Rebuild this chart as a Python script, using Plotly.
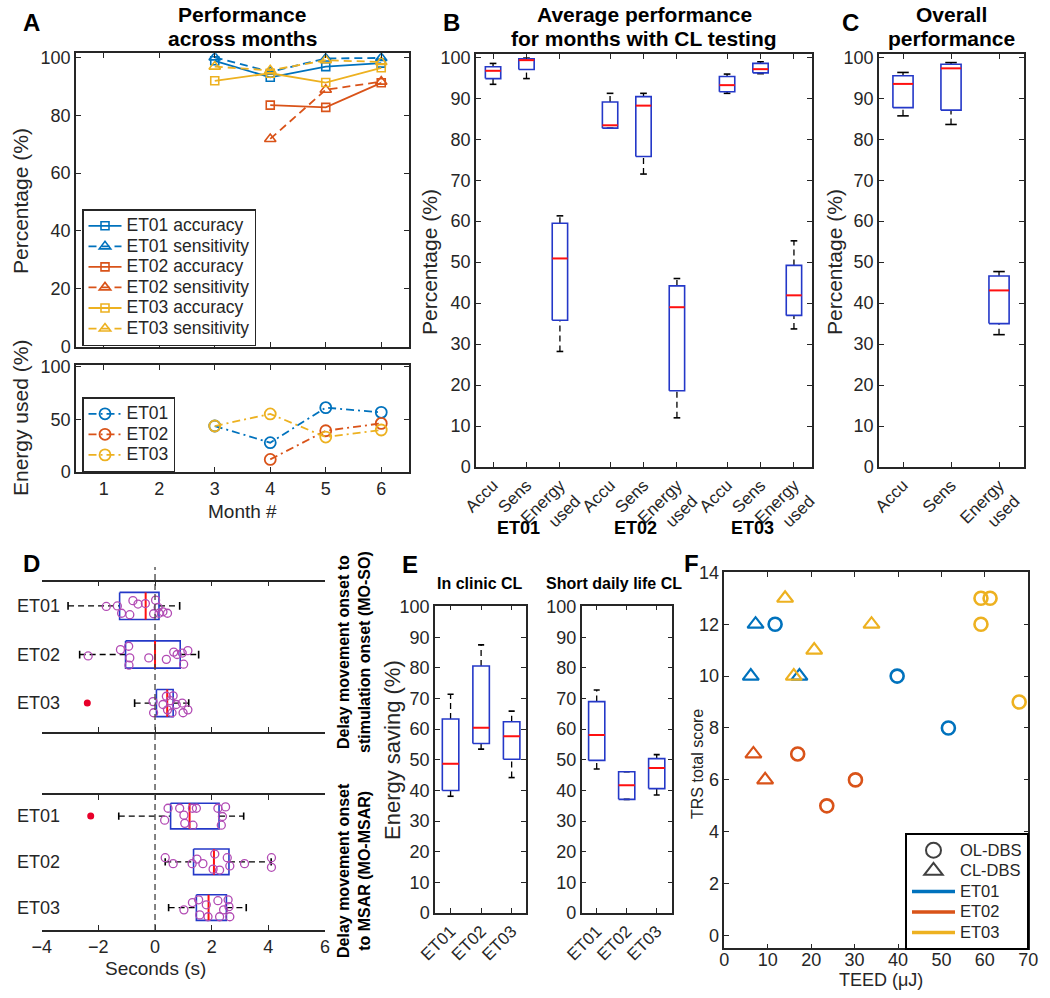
import plotly.graph_objects as go

W, H = 1050, 998
FONT = "Liberation Sans, Arial, Helvetica, sans-serif"
AX = "#262626"
C1, C2, C3 = "#0072BD", "#D95319", "#EDB120"
BOXC = "#2438c8"
MEDC = "#ff1010"
PTC = "#b24bb4"

# ---------------- Panel A data ----------------
months = [3, 4, 5, 6]
month_ticks = [1, 2, 3, 4, 5, 6]
et01_acc = [98.8, 93.1, 96.8, 98.0]
et01_sens = [100.0, 95.0, 99.6, 99.8]
et02_acc = [None, 83.5, 82.7, 91.2]
et02_sens = [None, 71.8, 88.8, 91.6]
et03_acc = [91.9, 94.5, 91.3, 96.4]
et03_sens = [96.8, 95.5, 99.0, 98.4]
et01_energy = [43.5, 27.6, 61.0, 56.5]
et02_energy = [None, 11.7, 39.0, 46.0]
et03_energy = [43.5, 55.0, 33.0, 39.7]

# ---------------- Panel B data ----------------
b_groups = ["ET01", "ET02", "ET03"]
b_metrics = ["Accu", "Sens", "Energy<br>used"]
b_pos = [1, 2, 3, 4.5, 5.5, 6.5, 8, 9, 10]
b_whislo = [93.4, 94.8, 28.2, 82.7, 71.5, 12.0, 91.2, 96.0, 33.7]
b_q1 = [94.8, 97.0, 35.8, 82.7, 75.8, 18.6, 91.6, 96.2, 37.0]
b_med = [96.7, 99.3, 50.9, 83.4, 88.2, 39.0, 93.2, 97.1, 41.9]
b_q3 = [97.7, 99.6, 59.5, 89.1, 90.4, 44.2, 95.3, 98.5, 49.2]
b_whishi = [98.5, 99.8, 61.3, 91.2, 91.2, 46.0, 95.9, 98.9, 55.2]

# ---------------- Panel C data ----------------
c_pos = [1, 2, 3]
c_whislo = [85.7, 83.6, 32.3]
c_q1 = [87.7, 87.1, 35.0]
c_med = [93.5, 97.3, 43.1]
c_q3 = [95.5, 98.3, 46.6]
c_whishi = [96.3, 98.7, 47.7]

# ---------------- Panel D data ----------------
subjects = ["ET01", "ET02", "ET03"]
d_pos = [1, 2, 3]
# MO-SO
so_whislo = [-3.07, -2.66, -0.72]
so_q1 = [-1.25, -1.04, 0.05]
so_med = [-0.33, 0.0, 0.43]
so_q3 = [0.14, 0.89, 0.64]
so_whishi = [0.87, 1.54, 1.19]
so_out_x = [-2.39]
so_out_subj = [3]
so_et01_x = [-1.72, -1.33, -1.18, -0.89, -0.78, -0.60, -0.34, -0.05, 0.02, 0.11, 0.14, 0.28, 0.44]
so_et01_dy = [0.01, 0.0, 0.15, 0.18, -0.11, -0.04, -0.05, 0.16, -0.12, 0.03, 0.15, 0.12, 0.15]
so_et02_x = [-2.36, -1.22, -0.93, -0.89, -0.92, -0.22, 0.40, 0.66, 0.78, 0.96, 1.01, 1.16]
so_et02_dy = [0.03, -0.10, -0.17, 0.07, 0.22, 0.07, 0.10, -0.05, 0.0, -0.03, 0.20, -0.08]
so_et03_x = [-0.07, -0.05, 0.28, 0.40, 0.44, 0.54, 0.60, 0.64, 0.75, 0.96, 0.99, 1.16]
so_et03_dy = [-0.03, 0.20, 0.03, -0.14, 0.14, -0.05, 0.20, -0.15, 0.03, 0.0, 0.20, 0.14]
# MO-MSAR
ms_whislo = [-1.28, 0.36, 0.48]
ms_q1 = [0.55, 1.36, 1.46]
ms_med = [1.22, 2.08, 1.89]
ms_q3 = [2.26, 2.61, 2.52]
ms_whishi = [3.13, 4.10, 3.22]
ms_out_x = [-2.27]
ms_out_subj = [1]
ms_et01_x = [0.34, 0.46, 0.87, 1.02, 1.05, 1.32, 1.46, 1.34, 2.22, 2.34, 2.49, 2.38]
ms_et01_dy = [0.09, -0.17, -0.17, -0.02, 0.16, -0.17, -0.17, 0.20, -0.17, 0.20, -0.20, 0.01]
ms_et02_x = [0.36, 0.64, 1.31, 1.48, 1.69, 2.05, 2.11, 2.28, 2.55, 2.64, 3.16, 4.11, 4.11]
ms_et02_dy = [-0.09, 0.04, 0.04, -0.06, 0.04, 0.16, -0.17, 0.18, -0.09, 0.09, 0.04, -0.09, 0.12]
ms_et03_x = [1.02, 1.32, 1.54, 1.58, 1.81, 1.87, 2.22, 2.28, 2.42, 2.58, 2.64, 2.61]
ms_et03_dy = [0.05, -0.11, -0.17, 0.16, -0.06, 0.20, -0.15, 0.20, 0.05, -0.17, 0.20, -0.02]

# ---------------- Panel E data ----------------
e_pos = [1, 2, 3]
clin_whislo = [38.1, 53.5, 44.2]
clin_q1 = [40.0, 55.3, 50.2]
clin_med = [48.7, 60.5, 57.7]
clin_q3 = [63.3, 80.6, 62.4]
clin_whishi = [71.4, 87.5, 65.9]
daily_whislo = [47.0, 37.1, 38.5]
daily_q1 = [49.8, 37.1, 40.6]
daily_med = [58.1, 41.7, 47.3]
daily_q3 = [69.0, 46.1, 50.4]
daily_whishi = [72.8, 46.1, 51.7]

# ---------------- Panel F data ----------------
f_et01_ol_x = [11.7, 39.8, 51.6]
f_et01_ol_y = [12, 10, 8]
f_et01_cl_x = [7.2, 6.1, 17.3]
f_et01_cl_y = [12, 10, 10]
f_et02_ol_x = [16.9, 23.6, 30.2]
f_et02_ol_y = [7, 5, 6]
f_et02_cl_x = [6.7, 9.4]
f_et02_cl_y = [7, 6]
f_et03_ol_x = [59.1, 61.2, 59.1, 67.9]
f_et03_ol_y = [13, 13, 12, 9]
f_et03_cl_x = [14.0, 20.7, 16.0, 33.9]
f_et03_cl_y = [13, 11, 10, 12]


def xd(p0, p1):
    return [p0 / W, p1 / W]


def yd(p0, p1):
    return [1 - p1 / H, 1 - p0 / H]


def big(s, size):
    return f'<span style="font-size:{size}px">{s}</span>'


def axis(**kw):
    base = dict(showline=True, linecolor=AX, linewidth=1.5, mirror="allticks",
                ticks="inside", ticklen=5, tickwidth=1.3, tickcolor=AX,
                showgrid=False, zeroline=False,
                tickfont=dict(family=FONT, size=18, color=AX))
    base.update(kw)
    return base


def box_traces(pos, lo, q1, med, q3, hi, xa, ya, hw, cw, horiz=False):
    bx, by, mx, my, wx, wy, cx, cy = [], [], [], [], [], [], [], []
    for p, a, b, m, c, d in zip(pos, lo, q1, med, q3, hi):
        bx += [p - hw, p + hw, p + hw, p - hw, p - hw, None]
        by += [b, b, c, c, b, None]
        mx += [p - hw, p + hw, None]
        my += [m, m, None]
        wx += [p, p, None, p, p, None]
        wy += [a, b, None, c, d, None]
        cx += [p - cw, p + cw, None, p - cw, p + cw, None]
        cy += [a, a, None, d, d, None]
    out = []
    for X, Y, col, wid, dash in [(wx, wy, "black", 1.3, "6px,4px"),
                                 (cx, cy, "black", 1.6, "solid"),
                                 (bx, by, BOXC, 1.6, "solid"),
                                 (mx, my, MEDC, 2.0, "solid")]:
        if horiz:
            X, Y = Y, X
        out.append(go.Scatter(x=X, y=Y, mode="lines",
                              line=dict(color=col, width=wid, dash=dash),
                              xaxis=xa, yaxis=ya, showlegend=False, hoverinfo="skip"))
    return out


fig = go.Figure()

# ---- Panel A top ----
perf = [("ET01 accuracy", et01_acc, C1, "solid", "square-open", 8),
        ("ET01 sensitivity", et01_sens, C1, "8px,5px", "triangle-up-open", 10),
        ("ET02 accuracy", et02_acc, C2, "solid", "square-open", 8),
        ("ET02 sensitivity", et02_sens, C2, "8px,5px", "triangle-up-open", 10),
        ("ET03 accuracy", et03_acc, C3, "solid", "square-open", 8),
        ("ET03 sensitivity", et03_sens, C3, "8px,5px", "triangle-up-open", 10)]
for name, vals, col, dash, sym, sz in perf:
    fig.add_trace(go.Scatter(x=months, y=vals, name=big(name, 17.5), mode="lines+markers",
                             line=dict(color=col, width=1.8, dash=dash),
                             marker=dict(symbol=sym, size=sz, color=col, line=dict(width=1.6)),
                             xaxis="x", yaxis="y", legend="legend"))

# ---- Panel A bottom ----
for name, vals, col in [("ET01", et01_energy, C1), ("ET02", et02_energy, C2), ("ET03", et03_energy, C3)]:
    fig.add_trace(go.Scatter(x=months, y=vals, name=big(name, 17.5), mode="lines+markers",
                             line=dict(color=col, width=1.8, dash="8px,4px,2px,4px"),
                             marker=dict(symbol="circle-open", size=11, color=col, line=dict(width=1.8)),
                             xaxis="x2", yaxis="y2", legend="legend2"))

# ---- Panel B ----
for t in box_traces(b_pos, b_whislo, b_q1, b_med, b_q3, b_whishi, "x3", "y3", 0.23, 0.1):
    fig.add_trace(t)

# ---- Panel C ----
for t in box_traces(c_pos, c_whislo, c_q1, c_med, c_q3, c_whishi, "x4", "y4", 0.21, 0.12):
    fig.add_trace(t)

# ---- Panel D ----
so_pts = [(so_et01_x, so_et01_dy), (so_et02_x, so_et02_dy), (so_et03_x, so_et03_dy)]
ms_pts = [(ms_et01_x, ms_et01_dy), (ms_et02_x, ms_et02_dy), (ms_et03_x, ms_et03_dy)]
for (lo, q1, md, q3, hi, pts, ox, osub, xa, ya) in [
        (so_whislo, so_q1, so_med, so_q3, so_whishi, so_pts, so_out_x, so_out_subj, "x5", "y5"),
        (ms_whislo, ms_q1, ms_med, ms_q3, ms_whishi, ms_pts, ms_out_x, ms_out_subj, "x6", "y6")]:
    for t in box_traces(d_pos, lo, q1, md, q3, hi, xa, ya, 0.28, 0.08, horiz=True):
        fig.add_trace(t)
    px, py = [], []
    for p, (xs, dys) in zip(d_pos, pts):
        px += xs
        py += [p + dy for dy in dys]
    fig.add_trace(go.Scatter(x=px, y=py, mode="markers",
                             marker=dict(symbol="circle-open", size=8, color=PTC, line=dict(width=1.3)),
                             xaxis=xa, yaxis=ya, showlegend=False, hoverinfo="skip"))
    fig.add_trace(go.Scatter(x=ox, y=osub, mode="markers",
                             marker=dict(symbol="circle", size=7, color="#e8002a"),
                             xaxis=xa, yaxis=ya, showlegend=False, hoverinfo="skip"))

# ---- Panel E ----
for t in box_traces(e_pos, clin_whislo, clin_q1, clin_med, clin_q3, clin_whishi, "x7", "y7", 0.27, 0.1):
    fig.add_trace(t)
for t in box_traces(e_pos, daily_whislo, daily_q1, daily_med, daily_q3, daily_whishi, "x8", "y8", 0.27, 0.1):
    fig.add_trace(t)

# ---- Panel F ----
for xs, ys, col, sym in [(f_et01_ol_x, f_et01_ol_y, C1, "circle-open"),
                         (f_et01_cl_x, f_et01_cl_y, C1, "triangle-up-open"),
                         (f_et02_ol_x, f_et02_ol_y, C2, "circle-open"),
                         (f_et02_cl_x, f_et02_cl_y, C2, "triangle-up-open"),
                         (f_et03_ol_x, f_et03_ol_y, C3, "circle-open"),
                         (f_et03_cl_x, f_et03_cl_y, C3, "triangle-up-open")]:
    fig.add_trace(go.Scatter(x=xs, y=ys, mode="markers",
                             marker=dict(symbol=sym, size=13 if "circle" in sym else 14, color=col,
                                         line=dict(width=2.6 if "circle" in sym else 2.2)),
                             xaxis="x9", yaxis="y9", showlegend=False, hoverinfo="skip"))
fig.add_trace(go.Scatter(x=[None], y=[None], mode="markers", name=big("OL-DBS", 16.5),
                         marker=dict(symbol="circle-open", size=15, color="#404040", line=dict(width=2)),
                         xaxis="x9", yaxis="y9", legend="legend3"))
fig.add_trace(go.Scatter(x=[None], y=[None], mode="markers", name=big("CL-DBS", 16.5),
                         marker=dict(symbol="triangle-up-open", size=16, color="#404040", line=dict(width=2)),
                         xaxis="x9", yaxis="y9", legend="legend3"))
for name, col in zip(subjects, [C1, C2, C3]):
    fig.add_trace(go.Scatter(x=[None], y=[None], mode="lines", name=big(name, 16.5),
                             line=dict(color=col, width=3.5),
                             xaxis="x9", yaxis="y9", legend="legend3"))

# ---------------- Layout ----------------
ticks10 = list(range(0, 101, 10))
layout = dict(
    width=W, height=H, template="none", paper_bgcolor="white", plot_bgcolor="white",
    margin=dict(l=0, r=0, t=0, b=0), showlegend=True,
    font=dict(family=FONT, color=AX),
    xaxis=axis(domain=xd(76, 409), range=[0.5, 6.5], tickvals=month_ticks, showticklabels=False, anchor="y"),
    yaxis=axis(domain=yd(53.3, 346.7), range=[0, 101.4], tickvals=list(range(0, 101, 20)), anchor="x"),
    xaxis2=axis(domain=xd(76, 409), range=[0.5, 6.5], tickvals=month_ticks, anchor="y2"),
    yaxis2=axis(domain=yd(365, 471.7), range=[0, 101.6], tickvals=[0, 50, 100], anchor="x2"),
    xaxis3=axis(domain=xd(476, 812), range=[0.49, 10.54], tickvals=b_pos,
                ticktext=b_metrics * 3, tickangle=-45, anchor="y3",
                tickfont=dict(family=FONT, size=17, color=AX)),
    yaxis3=axis(domain=yd(54, 467), range=[0, 100.8], tickvals=ticks10, anchor="x3"),
    xaxis4=axis(domain=xd(879, 1024), range=[0.5, 3.52], tickvals=c_pos,
                ticktext=b_metrics, tickangle=-45, anchor="y4",
                tickfont=dict(family=FONT, size=17, color=AX)),
    yaxis4=axis(domain=yd(54, 467), range=[0, 100.8], tickvals=ticks10, anchor="x4"),
    xaxis5=axis(domain=xd(41.7, 325), range=[-4, 6], tickvals=[-4, -2, 0, 2, 4, 6],
                showticklabels=False, anchor="y5"),
    yaxis5=dict(domain=yd(581.7, 731.7), range=[3.59, 0.5], visible=False, anchor="x5"),
    xaxis6=axis(domain=xd(41.7, 325), range=[-4, 6], tickvals=[-4, -2, 0, 2, 4, 6], anchor="y6"),
    yaxis6=dict(domain=yd(795, 930), range=[3.49, 0.54], visible=False, anchor="x6"),
    xaxis7=axis(domain=xd(435, 526), range=[0.49, 3.47], tickvals=e_pos, ticktext=subjects,
                tickangle=-45, anchor="y7", tickfont=dict(family=FONT, size=17, color=AX)),
    yaxis7=axis(domain=yd(605.7, 913), range=[0, 100.3], tickvals=ticks10, anchor="x7"),
    xaxis8=axis(domain=xd(581.7, 672.3), range=[0.5, 3.52], tickvals=e_pos, ticktext=subjects,
                tickangle=-45, anchor="y8", tickfont=dict(family=FONT, size=17, color=AX)),
    yaxis8=axis(domain=yd(605.7, 913), range=[0, 100.3], tickvals=ticks10, anchor="x8"),
    xaxis9=axis(domain=xd(724.3, 1028.3), range=[0, 70], tickvals=list(range(0, 71, 10)), anchor="y9",
                ticklabelstandoff=-6),
    yaxis9=axis(domain=yd(572.3, 948.3), range=[-0.49, 14], tickvals=list(range(0, 15, 2)), anchor="x9"),
    legend=dict(x=82 / W, y=1 - 209 / H, xanchor="left", yanchor="top", bgcolor="white",
                bordercolor=AX, borderwidth=1.5, font=dict(family=FONT, size=13.5, color=AX),
                itemwidth=33, tracegroupgap=0),
    legend2=dict(x=82 / W, y=1 - 397 / H, xanchor="left", yanchor="top", bgcolor="white",
                 bordercolor=AX, borderwidth=1.5, font=dict(family=FONT, size=13.5, color=AX),
                 itemwidth=33),
    legend3=dict(x=905 / W, y=1 - 833 / H, xanchor="left", yanchor="top", bgcolor="white",
                 bordercolor="black", borderwidth=2, font=dict(family=FONT, size=13.5, color=AX),
                 itemwidth=43),
)
fig.update_layout(**layout)


def ann(text, xpx, ypx, size, bold=False, angle=0, xanchor="center", color="black"):
    return dict(text=f"<b>{text}</b>" if bold else text, x=xpx / W, y=1 - ypx / H,
                xref="paper", yref="paper", showarrow=False, xanchor=xanchor, yanchor="middle",
                textangle=angle, font=dict(family=FONT, size=size, color=color))


annots = [
    ann("A", 31, 23, 24, True), ann("B", 451, 22, 24, True), ann("C", 850, 22, 24, True),
    ann("D", 31, 563, 24, True), ann("E", 410, 564, 24, True), ann("F", 692, 563, 24, True),
    ann("Performance", 242, 15, 21, True), ann("across months", 242, 39, 21, True),
    ann("Average performance", 644, 15, 21, True), ann("for months with CL testing", 644, 39, 21, True),
    ann("Overall", 951, 15, 21, True), ann("performance", 951, 39, 21, True),
    ann("In clinic CL", 480, 583, 16, True), ann("Short daily life CL", 614, 583, 16, True),
    ann("Delay movement onset to<br>stimulation onset (MO-SO)", 354, 652, 16, True, angle=-90),
    ann("Delay movement onset<br>to MSAR (MO-MSAR)", 354, 871, 16, True, angle=-90),
    # axis titles
    ann("Percentage (%)", 20, 201, 21, angle=-90, color=AX),
    ann("Energy used (%)", 20, 418, 21, angle=-90, color=AX),
    ann("Month #", 242, 512, 19, color=AX),
    ann("Percentage (%)", 430, 262, 21, angle=-90, color=AX),
    ann("Percentage (%)", 835, 262, 21, angle=-90, color=AX),
    ann("Seconds (s)", 155, 968, 19, color=AX),
    ann("Energy saving (%)", 392, 750, 22, angle=-90, color=AX),
    ann("TRS total score", 697, 764, 16, angle=-90, color=AX),
    ann("TEED (μJ)", 881, 980, 18, color=AX),
]
for g, gp in zip(b_groups, [2, 5.5, 9]):
    annots.append(dict(text=f"<b>{g}</b>", x=gp, xref="x3", y=1 - 528 / H, yref="paper",
                       showarrow=False, xshift=-8, font=dict(family=FONT, size=18, color="black")))
for s, p in zip(subjects, d_pos):
    for ya in ["y5", "y6"]:
        annots.append(dict(text=s, x=62 / W, xref="paper", y=p, yref=ya, xanchor="right",
                           showarrow=False, font=dict(family=FONT, size=18, color=AX)))
fig.update_layout(annotations=annots)

fig.add_shape(type="line", xref="x5", x0=0, x1=0, yref="paper", y0=1 - 930 / H, y1=1 - 567 / H,
              line=dict(color="#404040", width=1.3, dash="6px,4px"))

fig.write_html("out.html", config={"displayModeBar": False},
               post_script="document.body.style.margin='0px';document.body.style.overflow='hidden';")
